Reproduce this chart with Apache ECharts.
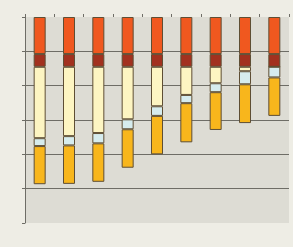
<!DOCTYPE html>
<html>
<head>
<meta charset="utf-8">
<script src="https://cdn.jsdelivr.net/npm/echarts@6/dist/echarts.min.js"></script>
<style>
html,body{margin:0;padding:0;background:#eeede5;}
#chart{width:293px;height:247px;}
</style>
</head>
<body>
<div id="chart"></div>
<script>
const categories = ['1','2','3','4','5','6','7','8','9'];
const orangeVals = [1.08, 1.08, 1.08, 1.08, 1.08, 1.08, 1.08, 1.08, 1.08];
const darkRedVals = [0.37, 0.37, 0.37, 0.37, 0.37, 0.37, 0.37, 0.37, 0.37];
const creamVals = [2.08, 2.02, 1.93, 1.53, 1.15, 0.82, 0.48, 0.13, 0];
const blueVals = [0.23, 0.27, 0.30, 0.29, 0.28, 0.24, 0.26, 0.38, 0.31];
const goldVals = [1.11, 1.12, 1.12, 1.12, 1.12, 1.14, 1.10, 1.13, 1.12];

const chart = echarts.init(document.getElementById('chart'));
const border = '#5e4e34';
function mk(name, data, color) {
  return {
    name, type: 'bar', stack: 'total', data, barWidth: 12,
    itemStyle: { color, borderColor: border, borderWidth: 1 },
    emphasis: { disabled: true }
  };
}
chart.setOption({
  animation: false,
  backgroundColor: '#eeede5',
  grid: { left: 25, top: 17, right: 4, bottom: 24, show: true, backgroundColor: '#dddcd4', borderWidth: 0 },
  xAxis: {
    type: 'category', data: categories, position: 'top',
    axisLine: { show: false },
    axisTick: { show: true, length: 3, lineStyle: { color: '#6e6d66' } },
    axisLabel: { show: false },
    splitLine: { show: false }
  },
  yAxis: {
    type: 'value', inverse: true, min: 0, max: 6, interval: 1,
    axisLine: { show: true, lineStyle: { color: '#6e6d66' } },
    axisTick: { show: true, length: 3, lineStyle: { color: '#6e6d66' } },
    axisLabel: { show: false },
    splitLine: { show: true, showMinLine: false, showMaxLine: false, lineStyle: { color: '#6e6d66', width: 1 } }
  },
  series: [
    mk('a', orangeVals, '#f0581f'),
    mk('b', darkRedVals, '#a2311f'),
    mk('c', creamVals, '#fdf5c2'),
    mk('d', blueVals, '#d6ecee'),
    mk('e', goldVals, '#f8b61c')
  ]
});
</script>
</body>
</html>
